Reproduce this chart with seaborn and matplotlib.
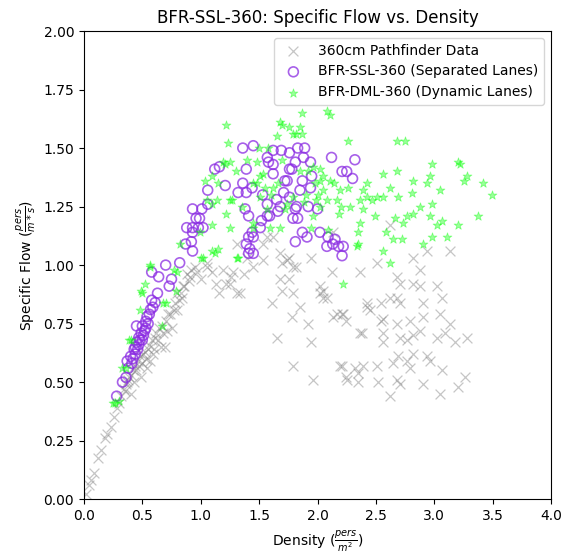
import numpy as np
import matplotlib
matplotlib.use("Agg")
import matplotlib.pyplot as plt
import seaborn as sns

# ------------------------
# DATA
# ------------------------
pf_density = [0.02, 0.04, 0.06, 0.09, 0.12, 0.15, 0.18, 0.20, 0.23, 0.26, 0.28, 0.30, 0.32, 0.34,
              0.36, 0.38, 0.40, 0.40, 0.42, 0.43, 0.45, 0.46, 0.48, 0.49, 0.50, 0.52, 0.54, 0.55,
              0.57, 0.58, 0.60, 0.62, 0.63, 0.66, 0.67, 0.69, 0.71, 0.72, 0.75, 0.77, 0.80, 0.81,
              0.83, 0.86, 0.88, 0.91, 0.92, 0.85, 0.80, 0.95, 1.05, 1.05, 1.10, 1.16, 1.22, 1.25,
              1.28, 1.31, 1.34, 1.31, 1.40, 1.45, 1.53, 1.53, 1.57, 1.61, 1.62, 1.65, 1.68, 1.68,
              1.70, 1.70, 1.74, 1.76, 1.76, 1.78, 1.79, 1.79, 1.79, 1.82, 1.85, 1.92, 1.94, 1.94,
              1.96, 2.02, 2.02, 2.05, 2.05, 2.08, 2.12, 2.13, 2.13, 2.17, 2.19, 2.21, 2.21, 2.22,
              2.24, 2.24, 2.25, 2.32, 2.35, 2.35, 2.36, 2.36, 2.38, 2.39, 2.42, 2.42, 2.45, 2.51,
              2.51, 2.52, 2.54, 2.54, 2.56, 2.56, 2.56, 2.62, 2.62, 2.62, 2.65, 2.68, 2.68, 2.68,
              2.68, 2.69, 2.71, 2.71, 2.71, 2.71, 2.77, 2.77, 2.79, 2.79, 2.82, 2.82, 2.82, 2.82,
              2.88, 2.88, 2.88, 2.90, 2.90, 2.90, 2.94, 2.94, 2.96, 3.02, 3.02, 3.05, 3.05, 3.07,
              3.07, 3.09, 3.13, 3.13, 3.18, 3.20, 3.26, 3.28, 0.35, 0.37, 0.39, 0.44, 0.47, 0.51,
              0.53, 0.56, 0.59, 0.61, 0.64, 0.68, 0.70, 0.74, 0.78, 0.84, 0.90, 0.97, 1.00, 1.13,
              1.19, 1.26, 1.37]
pf_flow = [0.02, 0.06, 0.08, 0.11, 0.175, 0.21, 0.26, 0.28, 0.31, 0.35, 0.39, 0.41, 0.44, 0.47,
           0.49, 0.51, 0.45, 0.53, 0.55, 0.50, 0.55, 0.59, 0.61, 0.52, 0.58, 0.63, 0.56, 0.64,
           0.59, 0.68, 0.64, 0.71, 0.68, 0.65, 0.74, 0.65, 0.72, 0.79, 0.73, 0.81, 0.81, 0.85,
           0.88, 0.91, 0.96, 0.95, 0.98, 0.91, 0.88, 0.99, 0.99, 1.01, 0.97, 0.88, 0.92, 0.92,
           0.97, 0.88, 0.88, 1.09, 1.03, 0.99, 1.02, 1.09, 1.12, 0.84, 1.12, 0.69, 0.94, 1.05,
           0.89, 1.01, 1.02, 0.94, 1.03, 0.78, 0.57, 0.88, 0.99, 0.99, 0.82, 0.75, 0.67, 1.03,
           0.51, 0.88, 0.91, 0.86, 0.89, 0.86, 0.97, 1.14, 0.78, 0.79, 0.57, 0.79, 0.57, 0.79,
           0.76, 0.52, 0.51, 0.56, 0.54, 0.50, 0.97, 0.71, 0.71, 0.57, 0.84, 0.82, 0.81, 1.01,
           0.57, 0.50, 0.84, 0.76, 0.77, 0.71, 0.67, 1.17, 0.86, 0.44, 0.58, 0.95, 0.86, 0.75,
           0.51, 0.61, 0.92, 0.84, 0.69, 0.49, 0.68, 0.59, 0.76, 0.56, 0.92, 0.70, 0.62, 1.03,
           0.91, 0.98, 0.72, 0.84, 0.78, 0.49, 1.06, 0.61, 0.59, 0.91, 0.69, 0.79, 0.45, 0.86,
           0.55, 0.71, 1.06, 0.75, 0.67, 0.48, 0.52, 0.69, 0.46, 0.50, 0.52, 0.57, 0.57, 0.62,
           0.60, 0.66, 0.62, 0.69, 0.73, 0.71, 0.76, 0.79, 0.84, 0.86, 0.93, 0.97, 0.94, 0.92,
           0.98, 0.95, 0.96]

ssl_density = [0.28, 0.33, 0.36, 0.37, 0.38, 0.40, 0.41, 0.42, 0.43, 0.44, 0.44, 0.45, 0.45, 0.46,
               0.47, 0.47, 0.48, 0.49, 0.50, 0.50, 0.51, 0.52, 0.53, 0.53, 0.54, 0.55, 0.56, 0.57,
               0.58, 0.58, 0.59, 0.61, 0.63, 0.64, 0.70, 0.73, 0.75, 0.82, 0.87, 0.88, 0.92, 0.93,
               0.93, 0.93, 0.93, 0.96, 0.98, 0.99, 1.01, 1.02, 1.06, 1.06, 1.12, 1.16, 1.21, 1.32,
               1.36, 1.36, 1.38, 1.39, 1.39, 1.39, 1.41, 1.41, 1.41, 1.42, 1.44, 1.44, 1.45, 1.45,
               1.45, 1.51, 1.52, 1.53, 1.57, 1.57, 1.57, 1.58, 1.59, 1.62, 1.62, 1.62, 1.65, 1.66,
               1.68, 1.69, 1.71, 1.72, 1.74, 1.76, 1.76, 1.76, 1.78, 1.79, 1.81, 1.81, 1.81, 1.82,
               1.83, 1.83, 1.85, 1.87, 1.87, 1.88, 1.89, 1.91, 1.92, 1.94, 1.94, 1.95, 2.00, 2.02,
               2.08, 2.09, 2.12, 2.13, 2.15, 2.18, 2.21, 2.21, 2.22, 2.25, 2.30, 2.32]
ssl_flow = [0.44, 0.50, 0.52, 0.59, 0.56, 0.61, 0.58, 0.60, 0.64, 0.62, 0.65, 0.67, 0.74, 0.64,
            0.69, 0.66, 0.68, 0.71, 0.74, 0.68, 0.70, 0.72, 0.76, 0.73, 0.78, 0.75, 0.79, 0.81,
            0.85, 0.97, 0.82, 0.84, 0.88, 0.95, 1.00, 0.91, 0.94, 1.01, 1.09, 1.16, 1.10, 1.06,
            1.14, 1.16, 1.24, 1.20, 1.16, 1.20, 1.24, 1.16, 1.26, 1.32, 1.41, 1.42, 1.34, 1.31,
            1.35, 1.50, 1.24, 1.31, 1.41, 1.09, 1.21, 1.12, 1.05, 1.07, 1.33, 1.14, 1.51, 1.12,
            1.05, 1.16, 1.19, 1.30, 1.46, 1.26, 1.21, 1.44, 1.21, 1.49, 1.43, 1.39, 1.28, 1.23,
            1.25, 1.49, 1.31, 1.36, 1.36, 1.48, 1.41, 1.29, 1.41, 1.20, 1.24, 1.44, 1.10, 1.25,
            1.50, 1.20, 1.32, 1.36, 1.14, 1.46, 1.50, 1.12, 1.25, 1.44, 1.33, 1.38, 1.24, 1.14,
            1.08, 1.12, 1.46, 1.09, 1.11, 1.08, 1.04, 1.40, 1.08, 1.40, 1.37, 1.45]

dml_density = [0.25, 0.27, 0.30, 0.33, 0.36, 0.39, 0.40, 0.48, 0.49, 0.50, 0.52, 0.57, 0.57, 0.67,
               0.68, 0.70, 0.77, 0.79, 0.80, 0.82, 0.99, 1.00, 1.02, 1.04, 1.05, 1.10, 1.10, 1.10,
               1.12, 1.14, 1.15, 1.19, 1.21, 1.22, 1.22, 1.23, 1.25, 1.25, 1.25, 1.27, 1.31, 1.32,
               1.45, 1.45, 1.45, 1.48, 1.48, 1.51, 1.51, 1.53, 1.57, 1.59, 1.62, 1.65, 1.68, 1.68,
               1.70, 1.74, 1.76, 1.79, 1.79, 1.82, 1.85, 1.87, 1.87, 1.94, 1.96, 1.96, 1.99, 2.02,
               2.02, 2.02, 2.05, 2.05, 2.08, 2.09, 2.11, 2.11, 2.17, 2.18, 2.19, 2.22, 2.26, 2.26,
               2.28, 2.34, 2.35, 2.35, 2.36, 2.36, 2.39, 2.39, 2.42, 2.42, 2.47, 2.49, 2.51, 2.56,
               2.56, 2.56, 2.59, 2.62, 2.62, 2.65, 2.66, 2.68, 2.68, 2.69, 2.72, 2.73, 2.75, 2.77,
               2.81, 2.82, 2.82, 2.88, 2.90, 2.94, 2.96, 2.96, 2.98, 2.98, 2.98, 3.02, 3.05, 3.07,
               3.11, 3.20, 3.20, 3.22, 3.25, 3.28, 3.37, 3.42, 3.49, 1.55, 1.60, 1.66, 1.72, 1.85,
               1.90, 1.92, 1.98, 2.00, 2.08, 2.14, 2.20, 1.88, 1.70, 1.58, 1.50, 1.40, 1.30, 1.35,
               1.15, 1.10]
dml_flow = [0.41, 0.41, 0.42, 0.56, 0.56, 0.68, 0.68, 0.81, 0.89, 0.88, 0.92, 0.99, 1.00, 0.74,
            0.84, 0.84, 0.98, 0.89, 0.97, 1.09, 1.14, 1.03, 1.03, 1.36, 1.28, 1.26, 1.06, 1.17,
            1.05, 1.28, 1.07, 1.44, 1.43, 1.60, 1.22, 1.52, 1.44, 1.28, 1.16, 1.28, 1.03, 1.03,
            1.35, 1.16, 1.18, 1.44, 1.35, 1.38, 1.29, 1.39, 1.24, 1.16, 1.33, 1.55, 1.61, 1.16,
            1.60, 1.26, 1.59, 1.56, 1.29, 1.56, 1.59, 1.56, 1.65, 1.16, 1.42, 1.21, 1.28, 1.36,
            1.25, 1.41, 1.32, 1.38, 1.66, 1.15, 1.64, 1.36, 1.28, 1.22, 1.32, 0.92, 1.53, 1.33,
            1.25, 1.08, 1.14, 1.09, 1.28, 1.18, 1.32, 1.24, 1.35, 1.29, 1.28, 1.21, 1.29, 1.39,
            1.29, 1.06, 1.14, 1.33, 1.01, 1.11, 1.20, 1.53, 1.40, 1.29, 1.11, 1.18, 1.53, 1.21,
            1.31, 1.36, 1.22, 1.25, 1.09, 1.35, 1.38, 1.21, 1.43, 1.26, 1.12, 1.17, 1.32, 1.19,
            1.12, 1.44, 1.17, 1.43, 1.36, 1.38, 1.21, 1.35, 1.30, 1.33, 1.30, 1.35, 1.24, 1.40,
            1.30, 1.40, 1.35, 1.30, 1.28, 1.35, 1.25, 1.27, 1.45, 1.50, 1.50, 1.45, 1.40, 1.25,
            1.35, 1.38]

# ------------------------
# PLOT
# ------------------------
fig, ax = plt.subplots(figsize=(5.67, 5.54), dpi=100)
fig.subplots_adjust(left=0.148, right=0.972, top=0.944, bottom=0.099)

sns.scatterplot(x=pf_density, y=pf_flow, marker="x", s=50, color="gray", alpha=0.45,
                linewidth=0.9, label="360cm Pathfinder Data", ax=ax)
sns.scatterplot(x=ssl_density, y=ssl_flow, marker="o", s=50, facecolors="none",
                edgecolors="#8A2BE2", linewidths=1.2, alpha=0.75,
                label="BFR-SSL-360 (Separated Lanes)", ax=ax)
sns.scatterplot(x=dml_density, y=dml_flow, marker="*", s=45, color="lime", edgecolor="lime",
                linewidth=0.6, alpha=0.4, label="BFR-DML-360 (Dynamic Lanes)", ax=ax)

ax.set_xlim(0, 4)
ax.set_ylim(0, 2)
ax.set_xlabel(r"Density ($\frac{pers}{m^2}$)")
ax.set_ylabel(r"Specific Flow ($\frac{pers}{m*s}$)")
ax.set_title("BFR-SSL-360: Specific Flow vs. Density")
ax.legend(loc="upper right")

plt.savefig("out.png", dpi=100)
